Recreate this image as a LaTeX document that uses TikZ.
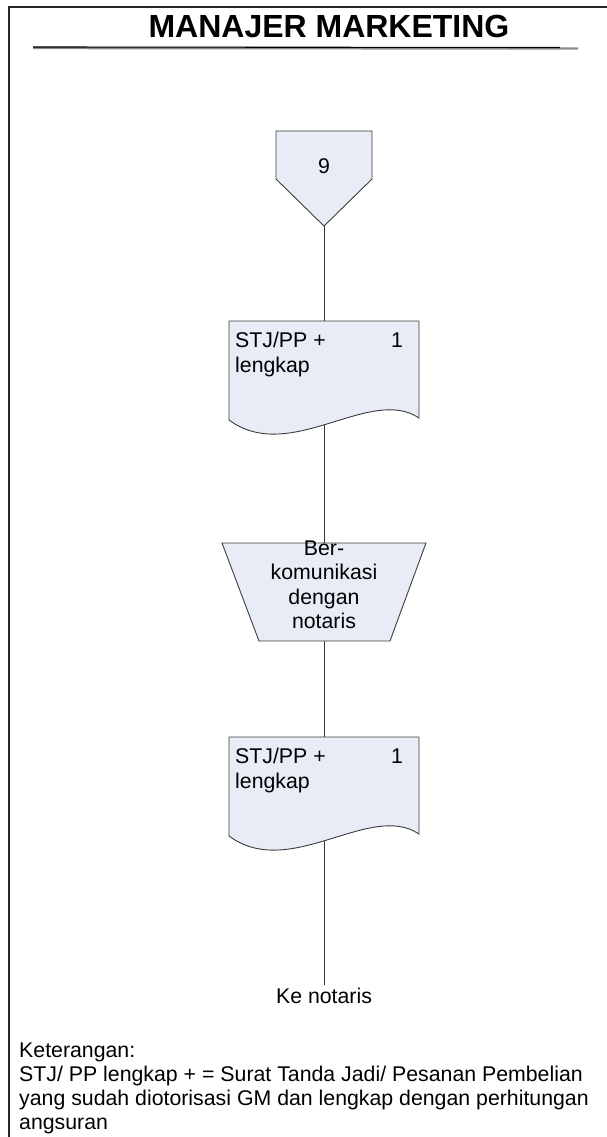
\documentclass[tikz,border=0pt]{standalone}
\usepackage{fontspec}
\setmainfont{Liberation Sans}
\definecolor{shapefill}{RGB}{232,236,247}
\definecolor{shapeline}{RGB}{60,60,60}
\tikzset{
  txt/.style={font=\fontsize{21.3}{24.5}\selectfont, inner sep=0pt},
  anchorbox/.style={draw=none, inner sep=0pt, minimum width=#1},
  shapebox/.style={fill=shapefill, draw=shapeline, line width=0.9pt, line join=miter},
  conn/.style={draw=black!80, line width=0.9pt},
}
\begin{document}
\begin{tikzpicture}[x=1pt,y=-1pt]
\useasboundingbox (0,0) rectangle (607,1137);
% frame
\draw[line width=1.2pt, black!85] (607,7) -- (9,7) -- (9,1137);
% title
\node[font=\fontsize{32}{36}\selectfont\bfseries, anchor=base, inner sep=0pt] (title) at (329,38) {MANAJER MARKETING};
\draw[line width=2.4pt, black!45] (33,48) -- (578,48.5);
\draw[line width=1.1pt, black] (33,47) -- (560,47.5);

% invisible anchor nodes
\node[anchorbox=96pt, minimum height=95pt] (off) at (324,178.5) {};
\node[anchorbox=190pt, minimum height=114pt] (doc1) at (324,378) {};
\node[anchorbox=204pt, minimum height=98pt] (trap) at (324,592) {};
\node[anchorbox=190pt, minimum height=114pt] (doc2) at (324,794) {};
\coordinate (end) at (324,985);

% connectors
\draw[conn] (off.south) -- (doc1.north);
\draw[conn] (doc1.center) -- (trap.north);
\draw[conn] (trap.south) -- (doc2.north);
\draw[conn] (doc2.center) -- (end);

% off-page connector
\draw[shapebox] (276,131) -- (372,131) -- (372,179) -- (324,226) -- (276,179) -- cycle;
\node[txt, anchor=base] (offlbl) at (324,173) {9};

% document 1
\draw[shapebox] (229,321) -- (419,321) -- (419,418)
  .. controls (370,385) and (290,465) .. (229,420) -- cycle;
\node[txt, anchor=base west] (d1a) at (235,347) {STJ/PP +};
\node[txt, anchor=base west] (d1b) at (235,372) {lengkap};
\node[txt, anchor=base] (d1n) at (397,347) {1};

% manual operation
\draw[shapebox] (222,543) -- (426,543) -- (390,641) -- (259,641) -- cycle;
\node[txt, anchor=base] (t1) at (324,555) {Ber-};
\node[txt, anchor=base] (t2) at (324,579.5) {komunikasi};
\node[txt, anchor=base] (t3) at (324,604) {dengan};
\node[txt, anchor=base] (t4) at (324,628.5) {notaris};

% document 2
\draw[shapebox] (229,737) -- (419,737) -- (419,834)
  .. controls (370,801) and (290,881) .. (229,836) -- cycle;
\node[txt, anchor=base west] (d2a) at (235,763) {STJ/PP +};
\node[txt, anchor=base west] (d2b) at (235,788) {lengkap};
\node[txt, anchor=base] (d2n) at (397,763) {1};

% end label
\node[txt, anchor=base] (ke) at (324,1003) {Ke notaris};

% notes
\node[txt, anchor=base west] (k1) at (19,1057) {Keterangan:};
\node[txt, anchor=base west] (k2) at (19,1081) {STJ/ PP lengkap + = Surat Tanda Jadi/ Pesanan Pembelian};
\node[txt, anchor=base west] (k3) at (19,1105) {yang sudah diotorisasi GM dan lengkap dengan perhitungan};
\node[txt, anchor=base west] (k4) at (19,1129) {angsuran};
\end{tikzpicture}
\end{document}
